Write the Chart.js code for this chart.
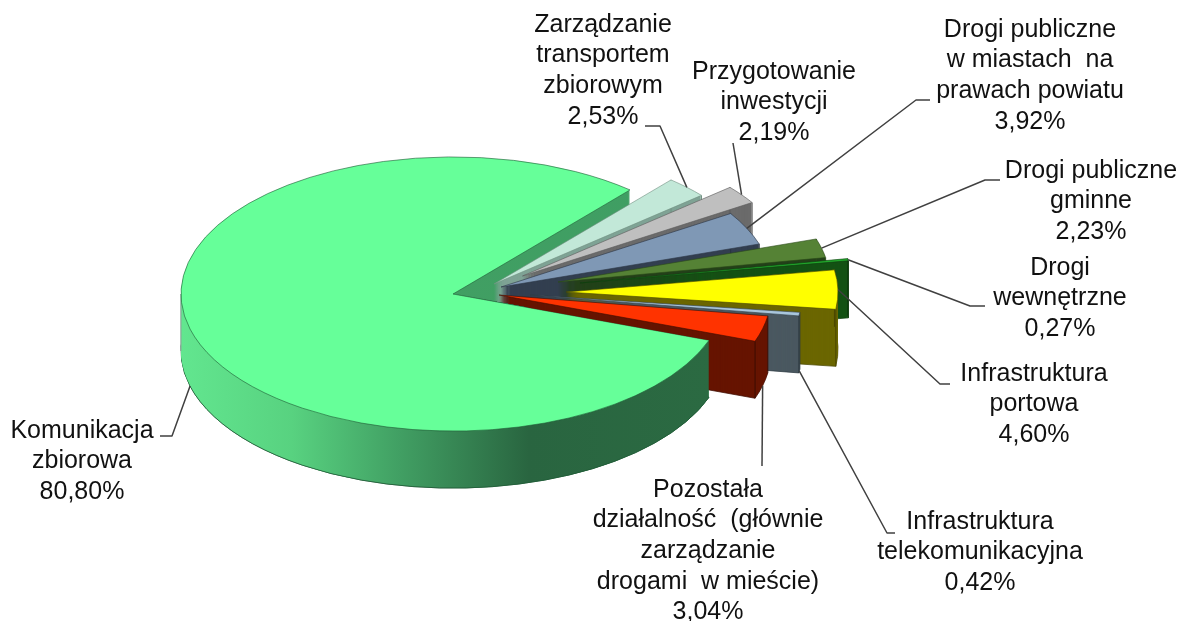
<!DOCTYPE html>
<html lang="pl">
<head>
<meta charset="utf-8">
<style>html,body{margin:0;padding:0;background:#fff}canvas{display:block}</style>
<script src="https://cdn.jsdelivr.net/npm/chart.js@4/dist/chart.umd.js"></script>
</head>
<body>
<canvas id="c" width="1178" height="621"></canvas>
<script>
const categories = [
  "Zarządzanie|transportem|zbiorowym",
  "Przygotowanie|inwestycji",
  "Drogi publiczne|w miastach  na|prawach powiatu",
  "Drogi publiczne|gminne",
  "Drogi|wewnętrzne",
  "Infrastruktura|portowa",
  "Infrastruktura|telekomunikacyjna",
  "Pozostała|działalność  (głównie|zarządzanie|drogami  w mieście)",
  "Komunikacja|zbiorowa"
];
const values = [2.53, 2.19, 3.92, 2.23, 0.27, 4.60, 0.42, 3.04, 80.80];

const topColors  = ["#C2E8D8", "#BFBFBF", "#7F98B5", "#558235", "#22A82C", "#FFFF00", "#A9C6DC", "#FF3300", "#66FF99"];
const sideColors = ["#7FA395", "#6B6B6B", "#333F50", "#24401A", "#145214", "#6B6600", "#4A5860", "#661400", "#3F9E63"];
const edgeColors = ["#6f9080", "#5a5a5a", "#2a3442", "#2a4a18", "#0d3d0d", "#4a4700", "#2f3c44", "#3d0c00", "#1f5a35"];
// extra displacement of each exploded slice (px), and where each label sits
const shifts = [[41,-10],[69.5,-18],[48,-7],[105,-12],[127,-11],[113,-2],[77,1],[46,1],[0,0]];
const labelPos = [[603,25],[774,72],[1030,30],[1091,171],[1060,268],[1034,374],[980,522],[708,490],[82,431]];
const leaderPath = [
  [[660,126],[645,126]],
  [[733,143]],
  [[916,100],[930,100]],
  [[985,180],[1000,180]],
  [[970,306],[985,306]],
  [[940,384],[950,384]],
  [[887,533],[895,533]],
  [[762,466]],
  [[172,436],[160,436]]
];
const SQUASH = 0.504, DEPTH = 57, LINE = 30.6, FONT = '25px "Liberation Sans", Arial, sans-serif';
const MAIN = values.length - 1;

const pie3d = {
  id: 'pie3d',
  beforeDatasetsDraw(chart) {
    const ctx = chart.ctx;
    const arcs = chart.getDatasetMeta(0).data;
    const frontStops = [[0,'#62E68F'],[0.21,'#58D280'],[0.416,'#419F63']];
    const makeGrad = rest => {
      const g = ctx.createLinearGradient(181, 0, 708, 0);
      frontStops.concat(rest).forEach(s => g.addColorStop(s[0], s[1]));
      return g;
    };
    const grad = makeGrad([[0.66,'#296540'],[1,'#2B6A42']]);
    const backGrad = makeGrad([[1, sideColors[MAIN]]]);

    const place = (arc, i, d) => {
      ctx.translate(arc.x + shifts[i][0], arc.y + shifts[i][1] + d);
      ctx.scale(1, SQUASH);
      ctx.translate(-arc.x, -arc.y);
    };
    const paint = (arc, i, d, fill, stroke, w) => {
      const keep = arc.options;
      arc.options = Object.assign({}, keep, {backgroundColor: fill, borderColor: stroke, borderWidth: w, offset: 0, spacing: 0});
      ctx.save(); place(arc, i, d); arc.draw(ctx); ctx.restore();
      arc.options = keep;
    };
    const rim = (arc, i, a) => [
      arc.x + shifts[i][0] + Math.cos(a) * arc.outerRadius,
      arc.y + shifts[i][1] + Math.sin(a) * arc.outerRadius * SQUASH
    ];
    const drop = (p, colour) => {
      ctx.save();
      ctx.strokeStyle = colour; ctx.lineWidth = 1;
      ctx.beginPath(); ctx.moveTo(p[0], p[1]); ctx.lineTo(p[0], p[1] + DEPTH); ctx.stroke();
      ctx.restore();
    };
    const solid = (arc, i, side) => {
      paint(arc, i, DEPTH, side, edgeColors[i], 1);
      for (let d = DEPTH - 1; d > 0; d--) paint(arc, i, d, side, side, 0);
      if (i !== MAIN) {
        [arc.startAngle, arc.endAngle].forEach(a => drop(rim(arc, i, a), edgeColors[i]));
      } else {
        drop(rim(arc, i, Math.PI), '#8AA898');
      }
      paint(arc, i, 0, topColors[i], edgeColors[i], 0.8);
    };

    // the big slice sits behind the others along its upper cut ...
    solid(arcs[MAIN], MAIN, backGrad);
    for (let i = 0; i < MAIN; i++) solid(arcs[i], i, sideColors[i]);
    // ... and in front of them below its lower cut
    const m = arcs[MAIN];
    const low = rim(m, MAIN, m.startAngle);
    ctx.save();
    ctx.beginPath();
    ctx.moveTo(m.x, m.y); ctx.lineTo(low[0], low[1]);
    ctx.lineTo(low[0] + 1, chart.height); ctx.lineTo(0, chart.height); ctx.lineTo(0, m.y);
    ctx.closePath(); ctx.clip();
    solid(m, MAIN, grad);
    ctx.restore();

    // leader lines start at each slice's own rim, then the labels
    ctx.save();
    ctx.strokeStyle = '#404040'; ctx.lineWidth = 1.5; ctx.lineJoin = 'round';
    arcs.forEach((arc, i) => {
      const mid = (arc.startAngle + arc.endAngle) / 2;
      const p = rim(arc, i, mid);
      const front = Math.sin(mid) > 0.1;
      ctx.beginPath();
      ctx.moveTo(p[0], p[1] + (front ? DEPTH : 0));
      leaderPath[i].forEach(q => ctx.lineTo(q[0], q[1]));
      ctx.stroke();
    });
    ctx.fillStyle = '#111'; ctx.font = FONT; ctx.textAlign = 'center'; ctx.textBaseline = 'middle';
    categories.forEach((name, i) => {
      const lines = name.split('|').concat(values[i].toFixed(2).replace('.', ',') + '%');
      lines.forEach((t, k) => ctx.fillText(t, labelPos[i][0], labelPos[i][1] + k * LINE));
    });
    ctx.restore();
    return false;
  }
};

new Chart(document.getElementById('c'), {
  type: 'pie',
  data: {
    labels: categories.map(s => s.replace(/\|/g, ' ')),
    datasets: [{ data: values, backgroundColor: topColors, borderWidth: 0 }]
  },
  options: {
    responsive: false,
    animation: false,
    rotation: 40.6,
    radius: 272,
    layout: { padding: { left: 0, right: 272, top: 0, bottom: 33 } },
    plugins: { legend: { display: false }, tooltip: { enabled: false } }
  },
  plugins: [pie3d]
});
</script>
</body>
</html>
